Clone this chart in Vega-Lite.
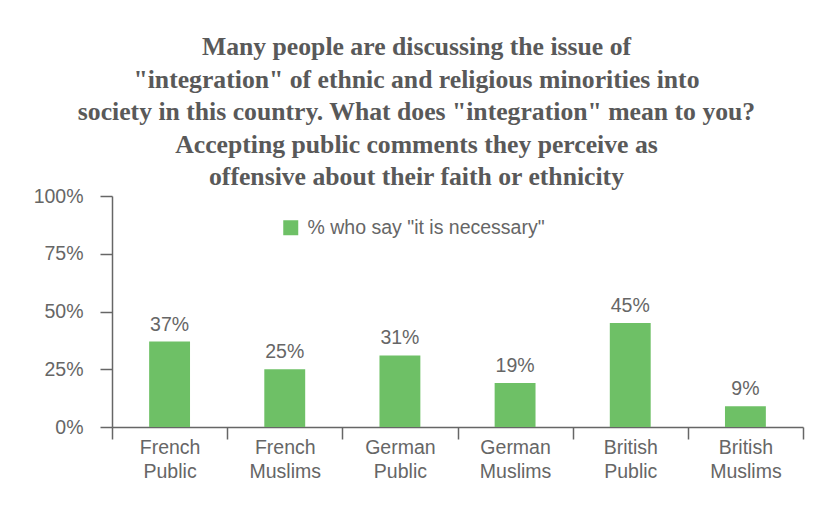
{
  "$schema": "https://vega.github.io/schema/vega-lite/v6.json",
  "width": 691,
  "height": 231,
  "autosize": {"type": "none"},
  "padding": {"left": 112, "top": 196, "right": 15, "bottom": 79},
  "background": "white",
  "title": {
    "text": [
      "Many people are discussing the issue of",
      "\"integration\" of ethnic and religious minorities into",
      "society in this country. What does \"integration\" mean to you?",
      "Accepting public comments they perceive as",
      "offensive about their faith or ethnicity"
    ],
    "font": "Liberation Serif",
    "fontSize": 25.7,
    "fontWeight": "bold",
    "color": "#595959",
    "lineHeight": 32.5,
    "anchor": "middle",
    "frame": "group",
    "dx": -41,
    "offset": -5
  },
  "data": {
    "values": [
      {"group": "French Public", "value": 0.37, "series": "% who say \"it is necessary\""},
      {"group": "French Muslims", "value": 0.25, "series": "% who say \"it is necessary\""},
      {"group": "German Public", "value": 0.31, "series": "% who say \"it is necessary\""},
      {"group": "German Muslims", "value": 0.19, "series": "% who say \"it is necessary\""},
      {"group": "British Public", "value": 0.45, "series": "% who say \"it is necessary\""},
      {"group": "British Muslims", "value": 0.09, "series": "% who say \"it is necessary\""}
    ]
  },
  "encoding": {
    "x": {
      "field": "group",
      "type": "nominal",
      "sort": null,
      "scale": {"paddingInner": 0, "paddingOuter": 0},
      "axis": {
        "title": null,
        "labelAngle": 0,
        "labelFont": "Liberation Sans",
        "labelFontSize": 19.5,
        "labelColor": "#666666",
        "labelExpr": "split(datum.label, ' ')",
        "labelLineHeight": 24,
        "labelPadding": -1,
        "tickBand": "extent",
        "tickSize": 12,
        "tickColor": "#666666",
        "tickWidth": 1.5,
        "domainColor": "#666666",
        "domainWidth": 1.5
      }
    },
    "y": {
      "field": "value",
      "type": "quantitative",
      "scale": {"domain": [0, 1]},
      "axis": {
        "title": null,
        "values": [0, 0.25, 0.5, 0.75, 1],
        "format": ".0%",
        "grid": false,
        "labelFont": "Liberation Sans",
        "labelFontSize": 19.5,
        "labelColor": "#666666",
        "labelPadding": 17,
        "tickSize": 12,
        "tickColor": "#666666",
        "tickWidth": 1.5,
        "domainColor": "#666666",
        "domainWidth": 1.5
      }
    }
  },
  "layer": [
    {
      "mark": {"type": "bar", "width": {"band": 0.355}},
      "encoding": {
        "color": {
          "field": "series",
          "type": "nominal",
          "scale": {"range": ["#6ec066"]},
          "legend": {
            "orient": "none",
            "legendX": 169,
            "legendY": 22,
            "title": null,
            "symbolType": "square",
            "symbolSize": 225,
            "symbolStrokeWidth": 0,
            "labelFont": "Liberation Sans",
            "labelFontSize": 19.5,
            "labelColor": "#666666",
            "labelOffset": 7,
            "labelLimit": 400
          }
        }
      }
    },
    {
      "mark": {
        "type": "text",
        "font": "Liberation Sans",
        "fontSize": 19.5,
        "color": "#666666",
        "baseline": "alphabetic",
        "dy": -11
      },
      "encoding": {
        "text": {"field": "value", "type": "quantitative", "format": ".0%"}
      }
    }
  ],
  "config": {"view": {"stroke": null}}
}
